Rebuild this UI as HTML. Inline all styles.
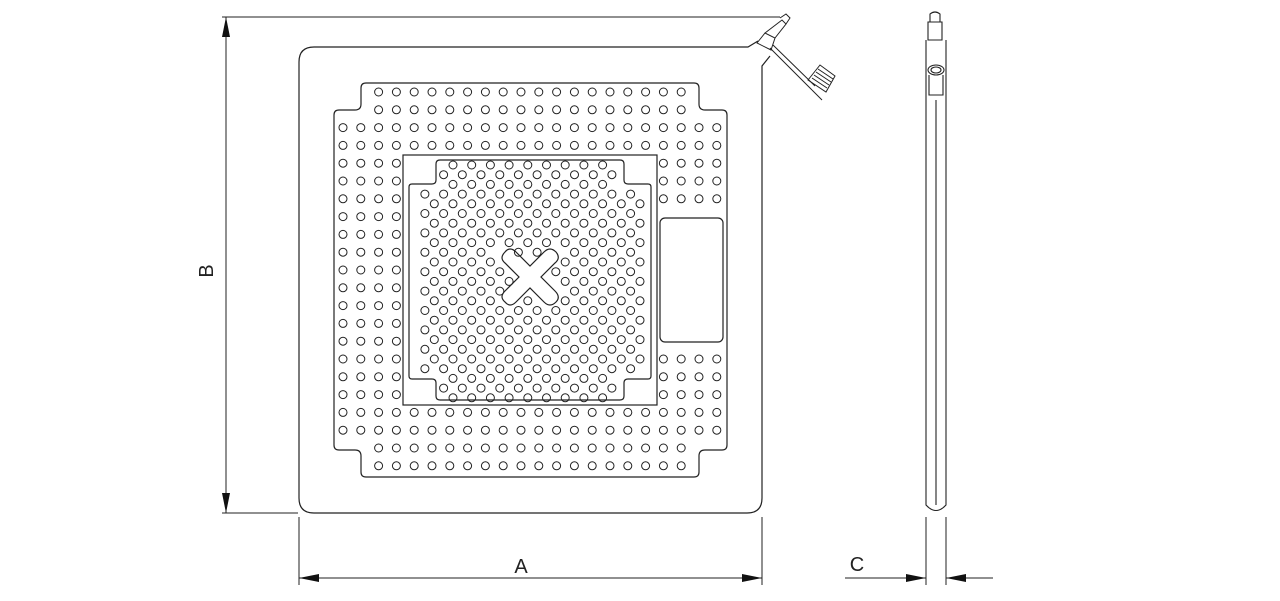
<!DOCTYPE html>
<html><head><meta charset="utf-8"><style>html,body{margin:0;padding:0;background:#fff}svg{display:block}</style></head>
<body>
<svg id="s" width="1280" height="601" viewBox="0 0 1280 601" xmlns="http://www.w3.org/2000/svg" fill="none" stroke="#222" stroke-width="1.2">
<!-- outer plate -->
<path d="M314 47 H748 L758 41"/>
<path d="M770 56 L762 66 V498 Q762 513 747 513 H314 Q299 513 299 498 V62 Q299 47 314 47"/>
<!-- perforated region outline -->
<path d="M366 83 H694 Q699 83 699 88 V104 Q699 110 705 110 H722 Q727 110 727 115 V445 Q727 450 722 450 H705 Q699 450 699 456 V472 Q699 477 694 477 H366 Q361 477 361 472 V456 Q361 450 355 450 H339 Q334 450 334 445 V115 Q334 110 339 110 H355 Q361 110 361 104 V88 Q361 83 366 83 Z"/>
<!-- inner frame -->
<rect x="403" y="155" width="254" height="250"/>
<path d="M440 160 H620 Q624 160 624 164 V180 Q624 184 628 184 H648 Q651 184 651 187 V376 Q651 379 648 379 H628 Q624 379 624 383 V396 Q624 400 620 400 H440 Q436 400 436 396 V383 Q436 379 432 379 H412 Q409 379 409 376 V187 Q409 184 412 184 H432 Q436 184 436 180 V164 Q436 160 440 160 Z"/>
<!-- right window -->
<rect x="660" y="218" width="63" height="124" rx="5"/>
<!-- X -->
<path d="M505 252 Q510 246 516 252 L530 266 L544 252 Q550 246 556 252 Q561 258 555 263 L541 277 L555 291 Q561 297 556 302 Q550 308 544 302 L530 288 L516 302 Q510 308 505 302 Q499 297 505 291 L519 277 L505 263 Q499 258 505 252 Z"/>
<g id="holes" stroke-width="1"></g>
<!-- valve on plate -->
<g stroke-width="1">
<path d="M757 43 L765 33 L775 38 L771 50 Z"/>
<path d="M765 33 L782 20 L786 24 L775 38"/>
<path d="M780 18 L786 14 L790 18 L786 24"/>
<path d="M770 48 L812 90 M773 45 L815 86"/>
<path d="M808 80 L820 65 L835 76 L826 92 Z"/>
<path d="M812 78 L827 88 M814 75 L829 85 M816 72 L831 82 M818 69 L833 79"/>
<path d="M812 90 L822 100"/>
</g>
<!-- side view -->
<g stroke-width="1.1">
<path d="M926 40 V505 Q936 516 946 505 V40"/>
<line x1="936" y1="100" x2="936" y2="505"/>
<path d="M930 22 V14 Q935 10 940 14 V22 Z M928 22 H942 V40 H928 Z"/>
<ellipse cx="936" cy="70" rx="8" ry="5"/>
<ellipse cx="936" cy="70" rx="5" ry="3"/>
<path d="M929 75 V95 H943 V75"/>
</g>
<!-- dimensions -->
<g stroke-width="1">
<line x1="222" y1="17" x2="780" y2="17"/>
<line x1="222" y1="513" x2="298" y2="513"/>
<line x1="226" y1="17" x2="226" y2="513"/>
<line x1="299" y1="517" x2="299" y2="585"/>
<line x1="762" y1="517" x2="762" y2="585"/>
<line x1="299" y1="578" x2="762" y2="578"/>
<line x1="926" y1="517" x2="926" y2="585"/>
<line x1="946" y1="517" x2="946" y2="585"/>
<line x1="845" y1="578" x2="926" y2="578"/>
<line x1="946" y1="578" x2="993" y2="578"/>
</g>
<g fill="#111" stroke="none">
<polygon points="226,17 222,37 230,37"/>
<polygon points="226,513 222,493 230,493"/>
<polygon points="299,578 319,574 319,582"/>
<polygon points="762,578 742,574 742,582"/>
<polygon points="926,578 906,574 906,582"/>
<polygon points="946,578 966,574 966,582"/>
</g>
<g fill="#222" stroke="none" font-family="Liberation Sans, sans-serif" font-size="20">
<text x="521" y="573" text-anchor="middle">A</text>
<text x="857" y="571" text-anchor="middle">C</text>
<text transform="translate(213,271) rotate(-90)" text-anchor="middle">B</text>
</g>
</svg>
<script>
var g=document.getElementById('holes'),out=[];
function c(x,y){out.push('<circle cx="'+x.toFixed(1)+'" cy="'+y.toFixed(1)+'" r="4"/>');}
var sp=17.8;
for(var i=0;i<22;i++)for(var j=0;j<22;j++){
 var x=343+j*sp,y=92+i*sp;
 if((i<2||i>19)&&(j<2||j>19))continue;
 if(x>398&&x<662&&y>150&&y<410)continue;
 if(x>655&&y>205&&y<352)continue;
 c(x,y);}
for(var r=0;r<25;r++){
 var y=165+r*9.7;
 var off=(r%2)?-9.35:0;
 for(var k=-1;k<14;k++){
  var x=453+off+k*18.7;
  if(x<414||x>647)continue;
  if((y<185||y>378)&&(x<440||x>620))continue;
  var dx=x-530,dy=y-277;
  if(Math.abs(Math.abs(dx)-Math.abs(dy))<13&&Math.abs(dx)<33&&Math.abs(dy)<33)continue;
  c(x,y);}}
g.innerHTML=out.join('');
</script>
</body></html>
